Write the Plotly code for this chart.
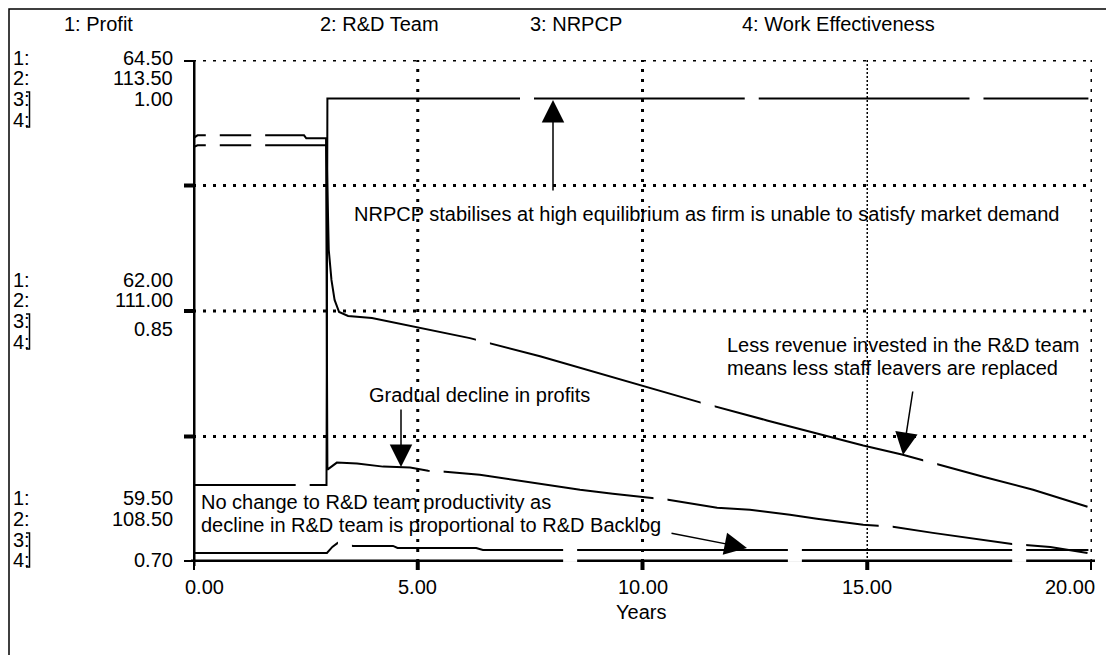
import numpy as np
import plotly.graph_objects as go

# ---------------- data ----------------
years_ticks = [0, 5, 10, 15, 20]
x_tick_labels = ["0.00", "5.00", "10.00", "15.00", "20.00"]

profit_range = [59.5, 64.5]
rd_range = [108.5, 113.5]
nrpcp_range = [0.70, 1.00]
we_range = [0.70, 1.00]

profit_t = [0.0, 0.1, 2.47, 2.52, 2.96, 2.99, 3.2, 3.65, 4.23, 4.83, 5.23, 5.61, 6.38,
            7.12, 7.88, 8.61, 9.34, 9.99, 10.57, 11.66, 12.39, 13.28, 13.88, 14.91,
            15.57, 16.46, 17.58, 18.22, 19.07, 19.9]
profit = [63.72, 63.75, 63.75, 63.72, 63.72, 60.42, 60.49, 60.48, 60.45, 60.44, 60.41,
          60.40, 60.37, 60.32, 60.27, 60.22, 60.18, 60.15, 60.12, 60.04, 60.02, 59.97,
          59.93, 59.87, 59.85, 59.79, 59.72, 59.68, 59.65, 59.59]

rd_t = [0.0, 0.1, 2.97, 3.02, 3.08, 3.15, 3.25, 3.45, 3.98, 4.54, 5.0, 5.5, 6.16, 7.72,
        9.05, 9.99, 11.28, 12.77, 14.24, 14.91, 15.77, 16.91, 17.58, 18.69, 19.9]
rd_team = [112.63, 112.65, 112.65, 111.61, 111.31, 111.11, 110.99, 110.95, 110.93,
           110.88, 110.84, 110.79, 110.73, 110.55, 110.38, 110.26, 110.09, 109.91,
           109.74, 109.66, 109.57, 109.43, 109.35, 109.22, 109.05]

nrpcp_t = [0.0, 2.97, 2.99, 19.92]
nrpcp = [0.746, 0.746, 0.977, 0.977]

we_t = [0.0, 2.98, 3.1, 3.22, 3.56, 4.45, 4.55, 6.3, 6.45, 19.92]
work_eff = [0.7054, 0.7054, 0.709, 0.7114, 0.7096, 0.7096, 0.7084, 0.7084, 0.7072, 0.7072]

series_names = ["1: Profit", "2: R&D Team", "3: NRPCP", "4: Work Effectiveness"]

# ---------------- style / layout constants ----------------
W, H = 1106, 655
L, R, T, B = 193, 1092, 60, 562
FONT = "Arial, Liberation Sans, sans-serif"
FS = 20
label_t = [[0.44, 5.42, 10.40, 15.41], [1.45, 6.45, 11.45, 16.40],
           [2.44, 7.43, 12.43, 17.43], [3.38, 8.39, 13.39, 18.38]]


def px_x(px):
    return (px - L) / (R - L)


def px_y(py):
    return (B - py) / (B - T)


fig = go.Figure()
series = [(profit_t, profit, "y"), (rd_t, rd_team, "y2"),
          (nrpcp_t, nrpcp, "y3"), (we_t, work_eff, "y4")]
for (tt, vv, ax), name in zip(series, series_names):
    fig.add_trace(go.Scatter(x=tt, y=vv, yaxis=ax, mode="lines", name=name,
                             line=dict(color="black", width=2), showlegend=False,
                             hoverinfo="skip"))

shapes = []
# grid (dotted)
ygrid = np.linspace(profit_range[0], profit_range[1], 5)
for yv in ygrid[1:]:
    shapes.append(dict(type="line", xref="x", yref="y", x0=0, x1=20, y0=yv, y1=yv,
                       line=dict(color="black", width=3, dash="3px,7px"), layer="below"))
for xv in years_ticks[1:]:
    thin = xv == 15
    shapes.append(dict(type="line", xref="x", yref="y", x0=xv, x1=xv,
                       y0=profit_range[0], y1=profit_range[1],
                       line=dict(color="black", width=1.5 if thin else 3,
                                 dash="2px,2px" if thin else "3px,7px"), layer="below"))
# axes
shapes.append(dict(type="line", xref="x", yref="paper", x0=0, x1=0, y0=px_y(566), y1=px_y(T),
                   line=dict(color="black", width=5), layer="above"))
shapes.append(dict(type="line", xref="paper", yref="y", x0=px_x(L - 2), x1=px_x(R + 3),
                   y0=profit_range[0], y1=profit_range[0],
                   line=dict(color="black", width=5), layer="above"))
for yv in ygrid:
    shapes.append(dict(type="line", xref="paper", yref="y", x0=px_x(L - 9), x1=px_x(L),
                       y0=yv, y1=yv, line=dict(color="black", width=4), layer="above"))
for xv in years_ticks:
    shapes.append(dict(type="line", xref="x", yref="paper", x0=xv, x1=xv,
                       y0=px_y(B), y1=px_y(B + 8), line=dict(color="black", width=4),
                       layer="above"))
# white label boxes (number labels knocked out of the curves)
for k, ((tt, vv, ax), lts) in enumerate(zip(series, label_t)):
    for lt in lts:
        yc = float(np.interp(lt, tt, vv))
        shapes.append(dict(type="rect", xref="x", yref=ax, xsizemode="pixel", ysizemode="pixel",
                           xanchor=lt, yanchor=yc, x0=-7, x1=7, y0=-12, y1=12,
                           fillcolor="white", line=dict(width=0), layer="above"))
# outer frame
shapes.append(dict(type="rect", xref="paper", yref="paper", x0=px_x(9), x1=px_x(1112),
                   y0=px_y(670), y1=px_y(9), line=dict(color="black", width=1.5),
                   fillcolor="rgba(0,0,0,0)", layer="above"))

# left scale brackets for 3 & 4
rows = {"top": [58, 78, 99, 120], "mid": [280, 300, 321, 342], "bot": [498, 519, 540, 560]}
for key, rr in rows.items():
    y3, y4 = rr[2] - 7, rr[3] + 7
    shapes.append(dict(type="path", xref="paper", yref="paper",
                       path=f"M{px_x(26)},{px_y(y3)} L{px_x(29.5)},{px_y(y3)} "
                            f"L{px_x(29.5)},{px_y(y4)} L{px_x(26)},{px_y(y4)}",
                       line=dict(color="black", width=1.5)))

ann = []


def text(px, py, s, anchor="left", size=FS):
    ann.append(dict(x=px_x(px), y=px_y(py), xref="paper", yref="paper", text=s,
                    showarrow=False, xanchor=anchor, yanchor="middle", align="left",
                    font=dict(family=FONT, size=size, color="black")))


# header
for px, s in zip([62, 318, 528, 740], series_names):
    text(px, 24, s)


def fmt(v):
    return f"{v:.2f}"


mid = lambda r: (r[0] + r[1]) / 2
scale_vals = {
    "top": [fmt(profit_range[1]), fmt(rd_range[1]), fmt(nrpcp_range[1])],
    "mid": [fmt(mid(profit_range)), fmt(mid(rd_range)), fmt(mid(nrpcp_range))],
    "bot": [fmt(profit_range[0]), fmt(rd_range[0]), fmt(nrpcp_range[0])],
}
val_rows = {"top": [58, 78, 99], "mid": [280, 300, 329], "bot": [498, 519, 560]}
for key, rr in rows.items():
    for i, r in enumerate(rr):
        text(11, r, f"{i + 1}:")
    for s, r in zip(scale_vals[key], val_rows[key]):
        text(175, r, s, anchor="right")

# x tick labels
for xv, lab in zip(years_ticks, x_tick_labels):
    shift = 11 if xv == years_ticks[0] else (-22 if xv == years_ticks[-1] else 0)
    ann.append(dict(x=xv, y=px_y(587), xref="x", yref="paper", text=lab, showarrow=False,
                    xanchor="center", yanchor="middle", xshift=shift,
                    font=dict(family=FONT, size=FS, color="black")))
text(641, 612, "Years", anchor="center")

# annotations
text(352, 214, "NRPCP stabilises at high equilibrium as firm is unable to satisfy market demand")
text(367, 395, "Gradual decline in profits")
text(725, 345, "Less revenue invested in the R&D team")
text(725, 368, "means less staff leavers are replaced")
text(199, 502, "No change to R&D team productivity as")
text(199, 525, "decline in R&D team is proportional to R&D Backlog")


def arrow(tx, ty, sx, sy):
    ann.append(dict(x=px_x(tx), y=px_y(ty), xref="paper", yref="paper", text="",
                    showarrow=True, ax=sx - tx, ay=sy - ty, axref="pixel", ayref="pixel",
                    arrowhead=2, arrowsize=3, arrowwidth=1.5, arrowcolor="black",
                    standoff=0, startstandoff=0))


arrow(553, 100, 553, 192)
arrow(401, 467, 401, 408)
arrow(903, 455, 913, 390)
arrow(747, 548, 670, 533)

fig.update_layout(
    width=W, height=H, autosize=False,
    margin=dict(l=L, r=W - R, t=T, b=H - B, pad=0),
    paper_bgcolor="white", plot_bgcolor="white",
    shapes=shapes, annotations=ann,
    xaxis=dict(range=[0, 20], visible=False, fixedrange=True),
    yaxis=dict(range=profit_range, visible=False),
    yaxis2=dict(range=rd_range, visible=False, overlaying="y"),
    yaxis3=dict(range=nrpcp_range, visible=False, overlaying="y"),
    yaxis4=dict(range=we_range, visible=False, overlaying="y"),
)
fig.write_html("out.html", config={"displayModeBar": False},
               post_script="document.body.style.margin='0px';")
